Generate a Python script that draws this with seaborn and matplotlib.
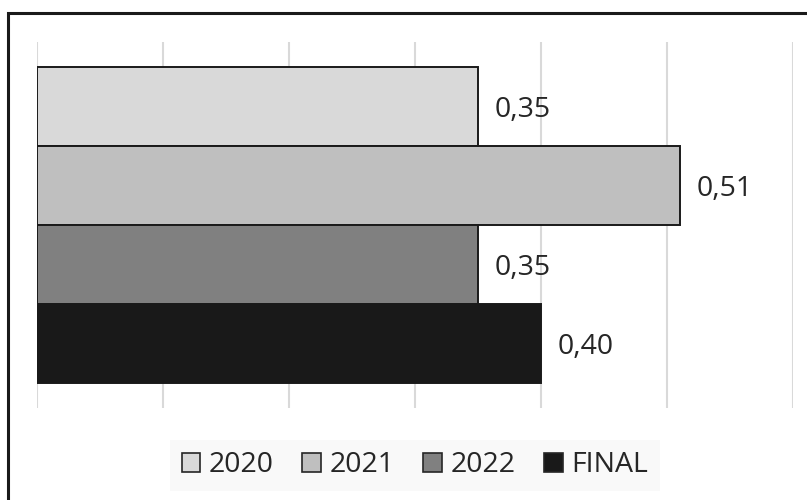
import matplotlib
matplotlib.use("Agg")
import matplotlib.pyplot as plt
from matplotlib.patches import Rectangle, Patch
import seaborn as sns
import pandas as pd

series = ["2020", "2021", "2022", "FINAL"]
values = [0.35, 0.51, 0.35, 0.40]
colors = ["#d9d9d9", "#bfbfbf", "#808080", "#191919"]
category = ["Total"]

df = pd.DataFrame({"cat": category * len(series), "serie": series, "valor": values})

sns.set_theme(style="white")
plt.rcParams["font.family"] = ["Open Sans", "DejaVu Sans"]
text_color = "#262626"

W, H = 807, 500
fig = plt.figure(figsize=(W / 100, H / 100), dpi=100)
ax = fig.add_axes([37 / W, 1 - 408 / H, (793 - 37) / W, (408 - 42) / H])

sns.barplot(data=df, x="valor", y="cat", hue="serie", hue_order=series,
            palette=colors, orient="h", width=0.863, ax=ax,
            edgecolor="#1a1a1a", linewidth=1.4, legend=False, saturation=1)

ax.set_xlim(0, 0.6)
ax.set_ylim(0.5, -0.5)
ax.set_xticks([0, 0.1, 0.2, 0.3, 0.4, 0.5, 0.6])
ax.xaxis.grid(True, color="#d9d9d9", linewidth=1.5)
ax.set_axisbelow(True)
ax.tick_params(left=False, bottom=False, labelleft=False, labelbottom=False)
ax.set_xlabel("")
ax.set_ylabel("")
for s in ax.spines.values():
    s.set_visible(False)

for cont in ax.containers:
    texts = ax.bar_label(cont, labels=[f"{v:.2f}".replace(".", ",") for v in cont.datavalues],
                         padding=12, fontsize=20.5, color=text_color)
    for t in texts:
        t.set_va("center_baseline")

handles = [Patch(facecolor=c, edgecolor="#262626", linewidth=1.2) for c in colors]
leg = fig.legend(handles, series, loc="center", bbox_to_anchor=(415 / W, 1 - 465.5 / H),
                 ncol=4, fontsize=20.5, frameon=True, fancybox=False,
                 handlelength=0.66, handleheight=0.66, handletextpad=0.3,
                 columnspacing=1.0, borderpad=0.4, labelcolor=text_color)
leg.get_frame().set_facecolor("#f8f8f8")
leg.get_frame().set_edgecolor("none")

# outer chart frame
fig.add_artist(Rectangle((8 / W, -0.1), 1.0, 1 - 13 / H + 0.1, transform=fig.transFigure,
                         fill=False, edgecolor="#1a1a1a", linewidth=2.2))

fig.savefig("out.png", dpi=100, facecolor="white")
